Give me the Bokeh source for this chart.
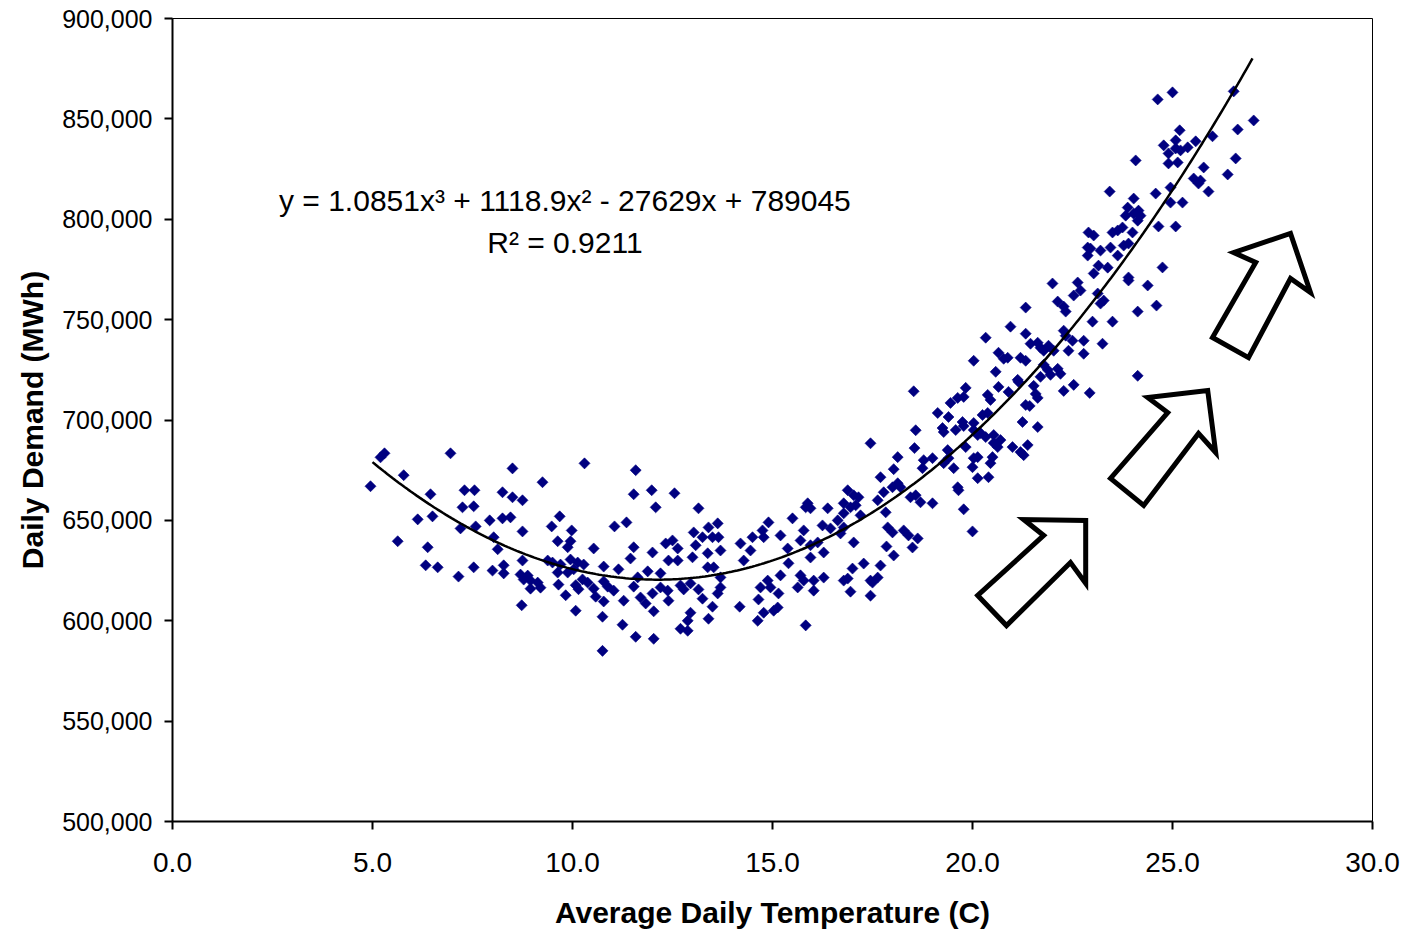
import numpy as np
from bokeh.plotting import figure
from bokeh.models import Range1d, FixedTicker, NumeralTickFormatter, Label
from bokeh.embed import file_html
from bokeh.resources import INLINE

# ---------------- data ----------------
temperature_c = [
    4.95, 5.20, 5.30, 5.78, 5.63, 6.95, 6.45, 6.13, 6.50, 6.38, 6.33, 6.63,
    7.30, 7.55, 7.25, 7.53, 7.20, 7.58, 7.15, 7.53, 7.93, 8.03, 8.13, 8.00,
    8.28, 8.28, 8.25, 8.50, 8.75, 8.50, 8.25, 8.45, 8.75, 9.25, 8.75, 8.70,
    8.88, 8.95, 8.78, 9.13, 9.20, 8.95, 8.73, 9.68, 9.48, 9.98, 9.63, 9.95,
    9.88, 10.30, 9.38, 9.50, 9.63, 9.70, 9.95, 10.13, 9.88, 10.03, 10.28, 9.65,
    9.83, 10.08, 10.15, 10.08,
    11.58, 11.53, 11.98, 12.55, 12.08, 13.15, 11.05, 11.35, 10.53, 10.25, 10.78, 11.15,
    11.53, 11.45, 12.00, 12.33, 12.50, 12.63, 13.03, 13.25, 13.40, 13.63, 13.50, 13.65,
    13.08, 13.38, 13.70, 13.00, 12.40, 12.63, 14.20, 14.50, 14.75, 14.90, 14.78, 14.45,
    14.28, 15.20, 15.50, 15.78, 15.83, 15.38, 15.70, 15.95, 15.40, 15.20, 15.70, 13.38,
    13.53, 13.70, 10.38, 10.53, 10.78, 10.88, 10.58, 10.78, 11.03, 11.28, 11.53, 11.70,
    11.83, 12.00, 12.20, 12.38, 12.40, 12.70, 12.03, 11.63, 11.88, 12.20, 12.78, 12.95,
    13.15, 13.25, 13.50, 13.63, 13.70, 12.95, 12.88, 12.70, 12.88, 13.40, 14.18, 14.70,
    14.88, 14.95, 14.65, 14.78, 14.63, 15.03, 15.13, 15.15, 15.63, 15.78, 11.25, 10.75,
    11.58, 12.03, 10.75, 15.83,
    18.53, 17.45, 18.58, 18.55, 18.13, 18.03, 17.70, 19.13, 19.40, 19.45, 19.63, 19.78,
    19.83, 19.25, 19.28, 19.58, 19.75, 20.03, 20.25, 20.38, 20.45, 20.65, 20.90, 21.15,
    21.25, 21.33, 20.20, 20.33, 20.53, 20.70, 20.63, 21.00, 21.20, 21.38, 19.38, 19.40,
    19.28, 19.00, 18.78, 18.75, 20.03, 20.13, 20.00, 20.50, 20.45, 19.53, 20.13, 20.40,
    19.63, 19.65, 18.58, 18.45, 18.70, 19.00, 18.13, 18.20, 18.00, 17.78, 17.63, 17.83,
    16.88, 17.03, 17.15, 16.78, 16.95, 17.08, 17.20, 16.78, 16.63, 16.38, 19.78, 20.00,
    15.88, 15.95, 16.25, 16.45, 16.78, 16.70, 16.13, 16.28, 15.95, 17.03, 17.88, 18.00,
    18.28, 18.40, 18.63, 18.50, 17.85, 18.03, 17.70, 17.28, 17.00, 16.88, 16.78, 17.45,
    17.63, 17.50, 16.95, 17.45, 16.03, 16.28, 16.03,
    22.00, 22.63, 22.70, 22.53, 23.13, 23.28, 23.20, 23.90, 22.13, 22.28, 22.33, 21.33,
    24.13, 23.00, 23.50, 20.95, 21.33, 22.28, 22.33, 22.50, 22.78, 23.25, 20.33, 21.45,
    21.63, 21.70, 21.78, 21.90, 22.03, 20.65, 20.78, 20.88, 21.20, 21.33, 22.40, 22.78,
    20.03, 21.78, 21.88, 21.70, 21.95, 22.13, 22.20, 20.58, 21.13, 21.53, 21.58, 21.63,
    22.28, 22.53, 22.93, 21.43, 19.78, 20.38, 21.63, 20.03, 20.13, 20.53, 21.28, 19.83,
    24.08, 24.90, 25.13, 25.78, 26.38, 25.53, 25.70, 25.65, 25.90, 23.43, 24.58, 24.95,
    24.03, 24.95, 25.25, 23.88, 24.15, 24.03, 23.83, 24.13, 24.20, 24.65, 25.08, 23.75,
    23.63, 23.50, 24.00, 22.90, 23.03, 22.88, 22.95, 23.20, 23.45, 23.63, 23.78, 23.90,
    22.88, 23.15, 23.38, 23.03, 23.90, 24.75, 24.38, 24.60, 24.13,
    24.63, 25.00, 26.53, 27.03, 26.63, 25.18, 24.78, 25.08, 25.08, 24.90, 25.20, 25.38,
    25.58, 26.00, 26.58,
]

daily_demand_mwh = [
    667000, 681400, 683400, 672500, 639600, 683400, 663000, 650500, 652000, 636600, 627600, 626600,
    665000, 665000, 656500, 657000, 646000, 647000, 622000, 626600, 650000, 641600, 635600, 625000,
    627600, 623600, 664000, 661500, 660000, 675900, 651000, 651500, 644500, 669000, 630000, 623000,
    622500, 620000, 620500, 619000, 616500, 616000, 607700, 652000, 647000, 645000, 639600, 639600,
    636600, 678400, 630000, 629000, 624000, 628000, 630500, 629000, 624000, 625600, 628000, 618000,
    612700, 617700, 615700, 605000,
    675000, 663000, 665000, 663500, 656500, 656000, 647000, 649000, 636000, 620600, 627000, 625600,
    636600, 631000, 634000, 638500, 640000, 636000, 644000, 641600, 646500, 648500, 641600, 641600,
    637600, 633600, 635000, 631600, 630000, 630000, 638500, 641600, 645000, 649000, 641600, 635000,
    630000, 642500, 651000, 645000, 656500, 636000, 640000, 637600, 628600, 622600, 622600, 626600,
    626600, 621600, 619000, 616000, 619600, 617000, 612000, 609600, 615000, 610000, 617000, 611600,
    608600, 613600, 616600, 615000, 610000, 617600, 604700, 621600, 624600, 623600, 615600, 618600,
    615600, 611000, 607000, 613600, 616600, 604000, 600000, 596000, 595000, 601000, 607000, 616600,
    620000, 616600, 610600, 604000, 600000, 605000, 606600, 613600, 616600, 620000, 598000, 602000,
    592000, 591000, 585000, 597700,
    714300, 688400, 694900, 686000, 681500, 675500, 671500, 703500, 701500, 708500, 711000, 711500,
    716000, 696000, 694000, 695000, 699000, 698500, 702500, 712500, 710000, 716500, 714000, 719000,
    699000, 707500, 693500, 691500, 692500, 690000, 686500, 686500, 684000, 687500, 685000, 681000,
    678500, 681000, 680000, 676000, 681000, 681500, 676500, 681500, 678500, 676000, 671000, 671500,
    666500, 665000, 662500, 661500, 659000, 658500, 668500, 666500, 666500, 664000, 660000, 654000,
    665000, 662500, 661500, 658500, 656500, 657500, 652500, 653500, 650000, 656000, 655500, 644500,
    658500, 656000, 647500, 646000, 646500, 643500, 639000, 634000, 631500, 639000, 646500, 644000,
    645000, 642500, 641000, 636500, 637000, 632500, 627500, 628500, 626000, 621000, 620000, 620000,
    621500, 619000, 614500, 612500, 620000, 621500, 615000,
    768000, 768500, 764500, 762000, 763000, 759500, 758000, 769500, 759000, 756500, 754000, 756000,
    754000, 749000, 749000, 746500, 743000, 744500, 742000, 739500, 739500, 738000, 741000, 738000,
    738500, 736000, 734500, 737000, 734500, 733500, 730500, 731000, 731000, 729500, 734500, 733000,
    729500, 727500, 725000, 721500, 722500, 725500, 723000, 724000, 720000, 717000, 713000, 711000,
    714500, 717500, 713500, 707000, 697000, 703500, 696500, 695000, 692500, 688500, 682500, 686500,
    829300, 827800, 828300, 825800, 822300, 820300, 819300, 817800, 813800, 813800, 812800, 815800,
    810300, 808300, 808300, 805800, 804300, 802800, 801800, 799300, 801800, 796400, 796400, 795900,
    794400, 793400, 793400, 793400, 791900, 785900, 785400, 784400, 785900, 781900, 786900, 787900,
    781900, 776900, 775900, 773000, 771000, 776000, 767000, 757000, 722000,
    859700, 863200, 863700, 849200, 844700, 844300, 836800, 839300, 835300, 832800, 834300, 835800,
    838800, 841300, 830300,
]

# polynomial trendline as printed on the chart (x^3, x^2, x, const)
trend_coefficients = [1.0851, 1118.9, -27629.0, 789045.0]
trend_x_start = 5.0
trend_x_end = 27.0

x_tick_values = [0, 5, 10, 15, 20, 25, 30]
y_tick_values = [500000, 550000, 600000, 650000, 700000, 750000, 800000, 850000, 900000]

x_axis_title = "Average Daily Temperature (C)"
y_axis_title = "Daily Demand (MWh)"
equation_text = "y = 1.0851x\u00b3 + 1118.9x\u00b2 - 27629x + 789045"
r2_text = "R\u00b2 = 0.9211"

# decorative block arrows (annotation outlines, in axis units)
arrow_shapes_x = [
    [20.13, 20.85, 22.45, 22.83, 22.83, 21.28, 21.78],
    [23.45, 24.28, 25.65, 26.08, 25.88, 24.38, 24.88],
    [26.00, 26.90, 27.95, 28.45, 27.95, 26.53, 27.08],
]
arrow_shapes_y = [
    [612600, 597600, 629000, 618600, 649900, 650400, 642500],
    [670900, 657400, 693300, 683800, 714700, 711200, 703700],
    [741100, 731100, 770500, 763500, 792900, 783400, 778500],
]

FONT = "Liberation Sans"

# ---------------- figure ----------------
p = figure(
    width=1407, height=931,
    x_range=Range1d(0, 30), y_range=Range1d(500000, 900000),
    output_backend="svg", toolbar_location=None,
    min_border_left=172, min_border_right=35, min_border_top=18, min_border_bottom=110,
)
p.background_fill_color = "white"
p.border_fill_color = "white"
p.outline_line_color = "black"
p.outline_line_width = 1
p.xgrid.visible = False
p.ygrid.visible = False

for ax in (p.xaxis[0], p.yaxis[0]):
    ax.axis_line_color = "black"
    ax.axis_line_width = 2
    ax.major_tick_line_color = "black"
    ax.major_tick_line_width = 2
    ax.major_tick_out = 8
    ax.major_tick_in = 0
    ax.minor_tick_line_color = None
    ax.major_label_text_font = FONT
    ax.major_label_text_color = "black"
    ax.axis_label_text_font = FONT
    ax.axis_label_text_font_style = "bold"
    ax.axis_label_text_color = "black"
    ax.axis_label_text_font_size = "30px"

p.xaxis.ticker = FixedTicker(ticks=x_tick_values)
p.yaxis.ticker = FixedTicker(ticks=y_tick_values)
p.xaxis.formatter = NumeralTickFormatter(format="0.0")
p.yaxis.formatter = NumeralTickFormatter(format="0,0")
p.xaxis.major_label_text_font_size = "28px"
p.yaxis.major_label_text_font_size = "25px"
p.xaxis.major_label_standoff = 23
p.yaxis.major_label_standoff = 12
p.xaxis.axis_label = x_axis_title
p.yaxis.axis_label = y_axis_title
p.xaxis.axis_label_standoff = 21
p.yaxis.axis_label_standoff = 10

# scatter
p.scatter(temperature_c, daily_demand_mwh, marker="square", size=7.8, angle=np.pi / 4,
          fill_color="#000080", line_color="#000080", line_width=0.6)

# trendline from the printed coefficients
tx = np.linspace(trend_x_start, trend_x_end, 300)
ty = np.polyval(trend_coefficients, tx)
p.line(tx, ty, line_color="black", line_width=2.5)

# arrows
p.patches(arrow_shapes_x, arrow_shapes_y, fill_color="white", line_color="black",
          line_width=5, line_join="miter")

# equation labels
p.add_layout(Label(x=9.81, y=809300, text=equation_text, text_align="center",
                   text_baseline="alphabetic", text_font=FONT, text_font_size="30px",
                   text_color="black"))
p.add_layout(Label(x=9.81, y=788500, text=r2_text, text_align="center",
                   text_baseline="alphabetic", text_font=FONT, text_font_size="30px",
                   text_color="black"))

open("out.html", "w").write(file_html(p, INLINE))
